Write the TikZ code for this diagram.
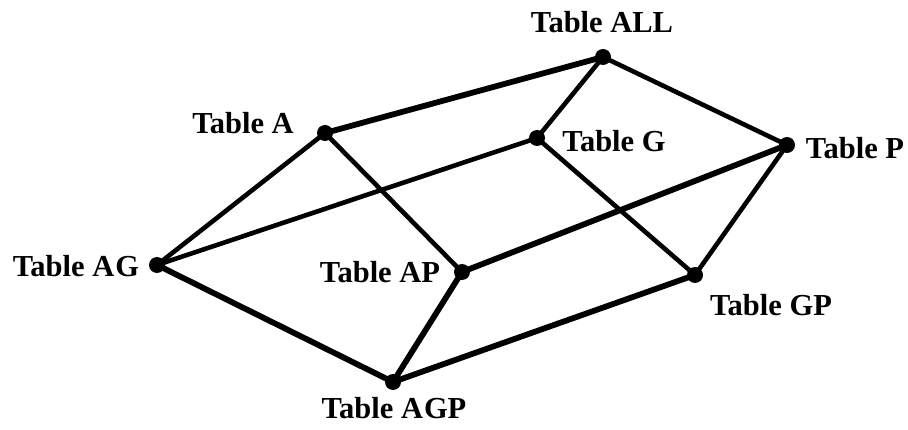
\documentclass[tikz,border=0pt]{standalone}
\usepackage{fontspec}
\setmainfont{Liberation Serif}
\begin{document}
\begin{tikzpicture}[x=1pt,y=-1pt,
  dot/.style={circle,fill=black,inner sep=0pt,minimum size=16pt},
  lbl/.style={font=\bfseries\fontsize{30.5}{33}\selectfont,inner sep=0pt,anchor=center},
  thinedge/.style={line width=4.6pt,line cap=round},
  thickedge/.style={line width=5.8pt,line cap=round}]
\useasboundingbox (0,0) rectangle (908,430);
\node[dot] (ALL) at (603,57) {};
\node[dot] (A) at (325,133) {};
\node[dot] (G) at (537,138) {};
\node[dot] (P) at (787,145) {};
\node[dot] (AG) at (157,265) {};
\node[dot] (AP) at (462,272) {};
\node[dot] (GP) at (695,275) {};
\node[dot] (AGP) at (393,382) {};
\node[lbl] (lALL) at (602,22) {Table ALL};
\node[lbl] (lA) at (243,123) {Table A};
\node[lbl] (lG) at (614,141) {Table G};
\node[lbl] (lP) at (855,148) {Table P};
\node[lbl] (lAG) at (76,266) {Table A\kern1ptG};
\node[lbl] (lAP) at (380,272) {Table AP};
\node[lbl] (lGP) at (771,305) {Table GP};
\node[lbl] (lAGP) at (394,408) {Table A\kern1ptGP};
\draw[thickedge] (A.center) -- (ALL.center);
\draw[thinedge] (ALL.center) -- (G.center);
\draw[thinedge] (ALL.center) -- (P.center);
\draw[thinedge] (A.center) -- (AG.center);
\draw[thinedge] (A.center) -- (AP.center);
\draw[thinedge] (G.center) -- (AG.center);
\draw[thinedge] (G.center) -- (GP.center);
\draw[thickedge] (P.center) -- (AP.center);
\draw[thinedge] (P.center) -- (GP.center);
\draw[thickedge] (AG.center) -- (AGP.center);
\draw[thickedge] (AP.center) -- (AGP.center);
\draw[thickedge] (GP.center) -- (AGP.center);
\end{tikzpicture}
\end{document}
